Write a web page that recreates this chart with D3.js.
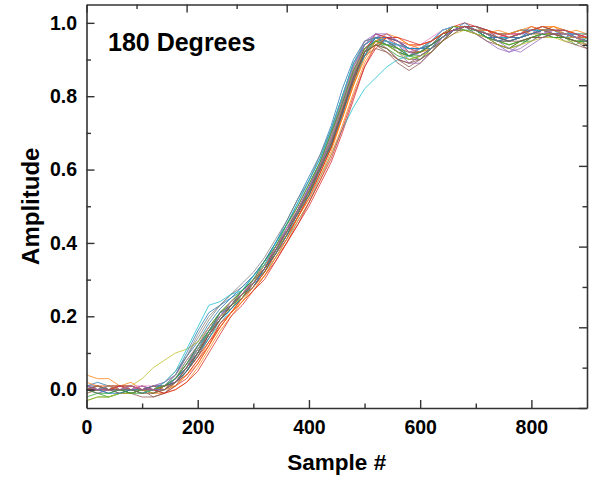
<!DOCTYPE html>
<html>
<head>
<meta charset="utf-8">
<script src="https://cdn.jsdelivr.net/npm/d3@7"></script>
<style>
  html, body { margin: 0; padding: 0; background: #fff; }
  svg text { font-family: "Liberation Sans", Arial, sans-serif; font-weight: bold; fill: #000; }
</style>
</head>
<body>
<svg id="chart" width="589" height="477"></svg>
<script>
// Sample positions shared by every recorded trace
const samples = d3.range(0, 901, 20);

// Amplitude of each recorded trace at the sample positions above
const run01 = [0.01,0.00,0.01,0.00,-0.01,0.00,0.01,0.02,0.04,0.09,0.13,0.18,0.22,0.25,0.27,0.31,0.35,0.40,0.45,0.51,0.57,0.63,0.71,0.80,0.89,0.94,0.96,0.95,0.93,0.92,0.93,0.95,0.98,0.99,0.99,0.98,0.96,0.95,0.96,0.97,0.98,0.98,0.97,0.97,0.96,0.95];
const run02 = [0.04,0.03,0.03,0.01,0.02,0.00,0.01,0.00,0.02,0.05,0.09,0.14,0.19,0.22,0.25,0.28,0.32,0.37,0.42,0.47,0.53,0.59,0.66,0.74,0.83,0.91,0.95,0.96,0.95,0.93,0.93,0.94,0.96,0.99,0.99,0.99,0.98,0.97,0.96,0.96,0.97,0.98,0.99,0.98,0.97,0.97];
const run03 = [-0.03,-0.02,-0.02,-0.01,-0.01,0.00,-0.01,0.01,0.02,0.06,0.10,0.15,0.19,0.22,0.25,0.29,0.33,0.38,0.43,0.48,0.54,0.61,0.68,0.77,0.86,0.92,0.94,0.93,0.91,0.90,0.91,0.93,0.96,0.98,0.99,0.98,0.97,0.95,0.94,0.95,0.96,0.97,0.97,0.96,0.95,0.95];
const run04 = [0.00,0.01,0.00,0.01,0.00,-0.01,0.00,-0.01,0.01,0.03,0.07,0.12,0.17,0.21,0.24,0.27,0.31,0.35,0.40,0.45,0.50,0.56,0.62,0.70,0.79,0.88,0.94,0.96,0.95,0.93,0.92,0.93,0.95,0.98,0.99,0.99,0.98,0.97,0.97,0.98,0.98,0.99,0.98,0.97,0.97,0.96];
const run05 = [0.00,0.00,0.01,0.01,0.00,0.00,0.01,0.01,0.03,0.07,0.11,0.16,0.20,0.23,0.26,0.30,0.34,0.39,0.44,0.49,0.55,0.61,0.68,0.77,0.87,0.94,0.97,0.96,0.93,0.90,0.90,0.92,0.95,0.98,0.99,0.97,0.95,0.93,0.92,0.94,0.96,0.97,0.97,0.96,0.96,0.95];
const run06 = [0.01,0.01,0.00,0.00,-0.01,0.00,-0.02,-0.01,0.02,0.06,0.10,0.15,0.20,0.24,0.27,0.30,0.34,0.38,0.43,0.49,0.55,0.61,0.68,0.77,0.86,0.93,0.95,0.93,0.90,0.88,0.90,0.93,0.96,0.98,0.99,0.98,0.96,0.95,0.95,0.96,0.97,0.98,0.98,0.97,0.96,0.94];
const run07 = [0.00,-0.01,0.00,0.00,0.01,0.01,0.00,0.01,0.03,0.07,0.12,0.17,0.21,0.24,0.26,0.29,0.33,0.38,0.43,0.49,0.55,0.61,0.69,0.78,0.87,0.93,0.95,0.95,0.94,0.93,0.94,0.96,0.98,0.99,0.99,0.98,0.97,0.96,0.96,0.97,0.98,0.98,0.98,0.98,0.97,0.96];
const run08 = [0.01,0.00,0.00,-0.01,0.00,0.00,0.00,0.02,0.05,0.09,0.14,0.19,0.23,0.26,0.28,0.31,0.35,0.40,0.45,0.50,0.56,0.62,0.70,0.79,0.88,0.94,0.96,0.95,0.93,0.92,0.92,0.94,0.97,0.99,0.99,0.98,0.97,0.96,0.95,0.96,0.97,0.98,0.98,0.97,0.96,0.96];
const run09 = [0.00,0.00,0.01,0.01,0.01,0.03,0.06,0.08,0.10,0.11,0.13,0.17,0.21,0.24,0.27,0.30,0.34,0.39,0.44,0.50,0.56,0.62,0.69,0.78,0.87,0.93,0.95,0.94,0.92,0.91,0.92,0.94,0.97,0.99,0.99,0.98,0.97,0.96,0.95,0.96,0.97,0.97,0.97,0.96,0.95,0.95];
const run10 = [0.01,0.01,0.00,0.00,0.00,0.00,0.00,0.01,0.02,0.05,0.09,0.14,0.18,0.22,0.25,0.28,0.32,0.36,0.41,0.46,0.51,0.58,0.64,0.71,0.77,0.82,0.85,0.88,0.90,0.91,0.92,0.95,0.97,0.99,0.99,0.98,0.97,0.97,0.97,0.98,0.98,0.99,0.98,0.97,0.97,0.96];
const run11 = [0.00,0.00,-0.01,0.00,0.00,0.01,0.00,0.01,0.04,0.10,0.16,0.21,0.23,0.25,0.28,0.31,0.35,0.40,0.46,0.52,0.58,0.64,0.72,0.82,0.90,0.95,0.96,0.94,0.92,0.91,0.92,0.94,0.97,0.99,0.99,0.98,0.96,0.96,0.96,0.97,0.97,0.98,0.97,0.96,0.95,0.95];
const run12 = [-0.01,0.00,0.00,0.01,0.00,0.00,0.01,0.00,0.01,0.04,0.08,0.13,0.18,0.21,0.24,0.28,0.32,0.37,0.42,0.47,0.53,0.59,0.66,0.74,0.83,0.91,0.95,0.96,0.95,0.94,0.94,0.95,0.97,0.99,0.99,0.99,0.98,0.97,0.96,0.97,0.98,0.99,0.99,0.98,0.97,0.96];
const run13 = [0.01,0.00,0.00,0.00,-0.01,-0.01,0.00,0.01,0.03,0.08,0.12,0.17,0.21,0.24,0.27,0.30,0.34,0.39,0.44,0.49,0.55,0.62,0.70,0.79,0.88,0.94,0.96,0.95,0.93,0.91,0.91,0.93,0.96,0.98,0.99,0.98,0.96,0.94,0.93,0.94,0.96,0.97,0.97,0.97,0.96,0.96];
const run14 = [0.00,0.00,0.01,0.00,0.00,0.00,0.01,0.01,0.02,0.05,0.09,0.13,0.17,0.21,0.25,0.29,0.33,0.37,0.42,0.47,0.53,0.60,0.67,0.76,0.86,0.93,0.96,0.96,0.94,0.93,0.93,0.95,0.97,0.99,1.00,0.99,0.98,0.97,0.97,0.97,0.98,0.98,0.98,0.97,0.96,0.95];
const run15 = [0.00,0.01,0.00,0.00,0.00,0.00,0.00,0.00,0.02,0.06,0.10,0.15,0.19,0.22,0.26,0.29,0.33,0.38,0.43,0.48,0.54,0.60,0.67,0.76,0.85,0.92,0.96,0.97,0.95,0.93,0.93,0.94,0.96,0.98,0.99,0.99,0.98,0.97,0.96,0.96,0.97,0.98,0.98,0.97,0.96,0.96];
const run16 = [0.00,0.00,0.00,0.01,0.01,0.00,-0.01,0.01,0.03,0.06,0.10,0.15,0.20,0.23,0.26,0.29,0.33,0.38,0.43,0.48,0.54,0.60,0.67,0.76,0.85,0.91,0.93,0.92,0.90,0.89,0.91,0.93,0.96,0.98,0.99,0.98,0.97,0.96,0.95,0.96,0.97,0.97,0.97,0.96,0.95,0.94];
const run17 = [0.01,0.01,0.01,0.00,0.00,0.00,0.00,0.01,0.03,0.07,0.11,0.16,0.20,0.23,0.26,0.30,0.34,0.38,0.43,0.49,0.55,0.61,0.68,0.77,0.86,0.93,0.96,0.96,0.95,0.94,0.94,0.95,0.97,0.98,0.99,0.98,0.97,0.97,0.97,0.97,0.97,0.98,0.98,0.97,0.97,0.96];
const run18 = [-0.01,0.00,0.00,0.00,0.00,0.00,0.00,0.00,0.02,0.05,0.10,0.15,0.19,0.23,0.26,0.29,0.33,0.38,0.43,0.48,0.54,0.60,0.67,0.76,0.85,0.92,0.95,0.94,0.92,0.91,0.92,0.94,0.97,0.99,0.99,0.98,0.97,0.95,0.95,0.96,0.97,0.98,0.98,0.97,0.96,0.96];
const run19 = [0.00,0.00,0.00,0.00,0.00,0.00,0.00,0.01,0.03,0.07,0.11,0.15,0.19,0.23,0.26,0.29,0.33,0.38,0.43,0.48,0.54,0.61,0.68,0.77,0.86,0.93,0.95,0.94,0.93,0.92,0.92,0.93,0.96,0.98,0.99,0.98,0.97,0.95,0.94,0.95,0.96,0.97,0.97,0.96,0.96,0.95];
const run20 = [0.00,0.01,0.00,0.00,0.00,0.00,0.00,0.01,0.03,0.06,0.11,0.16,0.20,0.23,0.26,0.29,0.33,0.38,0.43,0.48,0.54,0.60,0.67,0.75,0.84,0.91,0.95,0.95,0.94,0.93,0.93,0.95,0.97,0.99,0.99,0.99,0.98,0.97,0.97,0.98,0.98,0.98,0.98,0.97,0.96,0.96];
const run21 = [0.01,0.02,0.01,0.00,0.01,0.00,-0.01,0.00,0.03,0.06,0.12,0.15,0.21,0.22,0.26,0.28,0.33,0.37,0.44,0.48,0.55,0.60,0.68,0.75,0.86,0.91,0.96,0.94,0.94,0.91,0.93,0.93,0.97,0.98,1.00,0.98,0.97,0.95,0.96,0.96,0.98,0.97,0.98,0.96,0.97,0.95];
const run22 = [0.00,0.01,0.00,0.01,0.00,0.00,-0.01,-0.01,0.00,0.02,0.06,0.11,0.16,0.20,0.24,0.27,0.31,0.36,0.40,0.46,0.51,0.57,0.64,0.72,0.81,0.89,0.94,0.96,0.96,0.94,0.93,0.95,0.97,0.98,0.99,0.99,0.97,0.98,0.97,0.98,0.97,0.98,0.99,0.97,0.98,0.97];
const run23 = [-0.02,-0.01,-0.02,-0.01,0.00,-0.01,0.00,0.00,0.02,0.05,0.10,0.16,0.19,0.23,0.25,0.30,0.32,0.38,0.42,0.49,0.53,0.61,0.66,0.76,0.84,0.92,0.94,0.94,0.92,0.91,0.90,0.93,0.95,0.98,0.98,0.97,0.96,0.94,0.93,0.95,0.95,0.97,0.96,0.96,0.94,0.96];
const run24 = [0.01,0.00,0.01,0.01,0.00,0.01,0.00,0.01,0.02,0.04,0.08,0.12,0.18,0.21,0.25,0.28,0.32,0.37,0.41,0.47,0.52,0.59,0.66,0.75,0.84,0.92,0.97,0.96,0.95,0.92,0.92,0.94,0.96,0.99,0.99,0.98,0.98,0.96,0.97,0.97,0.99,0.98,0.97,0.97,0.96,0.97];
const run25 = [0.00,-0.01,0.00,0.01,0.00,0.01,0.00,0.00,0.03,0.07,0.12,0.16,0.21,0.23,0.27,0.29,0.34,0.38,0.44,0.48,0.55,0.61,0.69,0.78,0.88,0.95,0.97,0.95,0.92,0.89,0.89,0.92,0.96,0.98,0.99,0.98,0.96,0.94,0.92,0.93,0.95,0.97,0.98,0.97,0.96,0.96];
const run26 = [0.00,0.00,0.00,-0.01,-0.01,-0.02,-0.02,-0.01,0.01,0.05,0.09,0.15,0.19,0.23,0.26,0.30,0.33,0.39,0.43,0.49,0.54,0.61,0.68,0.76,0.86,0.92,0.94,0.92,0.89,0.87,0.89,0.92,0.95,0.98,0.98,0.97,0.95,0.94,0.93,0.95,0.96,0.96,0.97,0.95,0.94,0.93];
const run27 = [0.01,0.00,0.01,0.00,0.00,0.01,0.01,0.02,0.04,0.08,0.12,0.17,0.20,0.24,0.26,0.30,0.34,0.39,0.44,0.50,0.56,0.62,0.70,0.79,0.88,0.94,0.96,0.95,0.94,0.92,0.93,0.95,0.98,0.99,0.99,0.98,0.97,0.96,0.97,0.97,0.98,0.97,0.98,0.97,0.97,0.96];
const run28 = [0.00,0.01,0.00,0.00,-0.01,0.00,0.00,0.01,0.04,0.09,0.15,0.20,0.23,0.26,0.29,0.32,0.36,0.41,0.46,0.52,0.57,0.64,0.71,0.80,0.89,0.95,0.96,0.95,0.93,0.91,0.92,0.94,0.97,0.98,0.99,0.97,0.96,0.95,0.95,0.96,0.97,0.98,0.97,0.97,0.96,0.95];
const run29 = [-0.03,-0.02,-0.02,-0.01,-0.01,0.00,-0.01,0.00,0.02,0.06,0.11,0.15,0.20,0.22,0.26,0.29,0.34,0.37,0.43,0.48,0.54,0.60,0.68,0.77,0.86,0.92,0.95,0.94,0.92,0.90,0.91,0.92,0.95,0.97,0.98,0.97,0.96,0.94,0.93,0.94,0.95,0.96,0.96,0.95,0.95,0.94];
const run30 = [0.00,0.00,0.01,0.00,0.00,-0.01,0.00,0.02,0.05,0.11,0.17,0.23,0.24,0.26,0.27,0.31,0.34,0.40,0.45,0.51,0.57,0.63,0.71,0.80,0.89,0.94,0.96,0.95,0.94,0.93,0.93,0.95,0.98,0.99,0.99,0.99,0.97,0.96,0.96,0.97,0.98,0.98,0.98,0.97,0.97,0.97];
const run31 = [0.00,0.00,-0.01,-0.01,0.00,0.00,0.01,0.01,0.02,0.05,0.10,0.14,0.19,0.22,0.25,0.28,0.33,0.37,0.42,0.48,0.53,0.60,0.67,0.75,0.85,0.92,0.96,0.96,0.95,0.93,0.93,0.94,0.96,0.98,0.99,0.98,0.96,0.96,0.95,0.96,0.97,0.98,0.98,0.98,0.96,0.96];
const run32 = [0.02,0.01,0.01,0.00,0.01,0.00,0.00,0.01,0.01,0.04,0.07,0.12,0.17,0.21,0.25,0.28,0.31,0.36,0.41,0.47,0.52,0.58,0.65,0.74,0.83,0.90,0.95,0.97,0.96,0.94,0.94,0.95,0.97,0.99,0.99,0.98,0.98,0.97,0.97,0.98,0.99,0.98,0.98,0.97,0.96,0.96];
const run33 = [0.00,-0.01,-0.01,0.00,-0.01,0.00,0.00,0.01,0.03,0.07,0.12,0.16,0.21,0.23,0.27,0.30,0.35,0.39,0.45,0.50,0.56,0.62,0.70,0.78,0.87,0.93,0.95,0.94,0.93,0.91,0.92,0.94,0.96,0.99,0.98,0.98,0.96,0.95,0.94,0.95,0.96,0.97,0.96,0.96,0.95,0.95];
const run34 = [0.00,0.00,0.00,0.01,0.01,0.00,0.00,-0.01,0.00,0.02,0.05,0.10,0.15,0.20,0.23,0.27,0.30,0.35,0.40,0.45,0.51,0.57,0.63,0.71,0.80,0.88,0.93,0.96,0.96,0.95,0.94,0.95,0.97,0.98,0.99,0.99,0.98,0.97,0.96,0.97,0.98,0.99,0.98,0.98,0.97,0.96];
const run35 = [0.01,0.00,0.00,0.00,0.01,0.00,0.00,0.00,0.02,0.06,0.11,0.15,0.20,0.23,0.26,0.29,0.33,0.38,0.43,0.49,0.55,0.61,0.68,0.77,0.86,0.94,0.97,0.97,0.95,0.92,0.91,0.93,0.96,0.98,0.99,0.98,0.97,0.95,0.93,0.92,0.94,0.96,0.97,0.97,0.96,0.95];
const run36 = [0.00,0.01,0.00,0.00,0.00,-0.01,-0.01,0.00,0.02,0.06,0.10,0.15,0.19,0.23,0.26,0.29,0.33,0.38,0.43,0.48,0.54,0.60,0.67,0.76,0.85,0.92,0.94,0.93,0.90,0.89,0.90,0.92,0.95,0.97,0.99,0.98,0.97,0.96,0.95,0.95,0.96,0.96,0.97,0.96,0.95,0.93];

const runs = [run01, run02, run03, run04, run05, run06, run07, run08, run09, run10,
              run11, run12, run13, run14, run15, run16, run17, run18, run19, run20,
              run21, run22, run23, run24, run25, run26, run27, run28, run29, run30,
              run31, run32, run33, run34, run35, run36];

// Axis ticks and text
const xMajorTicks = [0, 200, 400, 600, 800];
const xMinorTicks = [100, 300, 500, 700];
const yMajorTicks = [0.0, 0.2, 0.4, 0.6, 0.8, 1.0];
const yMinorTicks = [0.1, 0.3, 0.5, 0.7, 0.9];
const xDomain = [0, 900];
const yDomain = [-0.05, 1.05];
const xTitle = "Sample #";
const yTitle = "Amplitude";
const panelLabel = "180 Degrees";

const svg = d3.select("#chart");
const margin = { left: 86.5, right: 2, top: 4.5, bottom: 69 };
const W = 589, H = 477;
const x = d3.scaleLinear().domain(xDomain).range([margin.left, W - margin.right]);
const y = d3.scaleLinear().domain(yDomain).range([H - margin.bottom, margin.top]);

const palette = d3.schemeCategory10;

svg.append("defs").append("clipPath").attr("id", "plotClip")
  .append("rect")
  .attr("x", x.range()[0]).attr("y", y.range()[1])
  .attr("width", x.range()[1] - x.range()[0])
  .attr("height", y.range()[0] - y.range()[1]);

const line = d3.line()
  .x((d, i) => x(samples[i]))
  .y(d => y(d));

svg.append("g").attr("clip-path", "url(#plotClip)")
  .selectAll("path")
  .data(runs)
  .join("path")
  .attr("d", line)
  .attr("fill", "none")
  .attr("stroke", (d, i) => palette[i % palette.length])
  .attr("stroke-width", 0.9)
  .attr("stroke-opacity", 0.85);

// Frame and inward ticks
const axisColor = "#333";
const labelFont = "Liberation Sans, Arial, sans-serif";
function styleAxis(g) {
  g.select(".domain").attr("stroke", axisColor).attr("stroke-width", 1.6);
  g.selectAll(".tick line").attr("stroke", axisColor).attr("stroke-width", 1.4);
}

const xAxis = d3.axisBottom(x).tickValues(xMajorTicks).tickSizeInner(-8).tickSizeOuter(0)
  .tickPadding(12).tickFormat(d3.format("d"));
svg.append("g").attr("transform", `translate(0,${y.range()[0]})`).call(xAxis)
  .call(styleAxis)
  .call(g => g.selectAll("text").attr("font-size", 19.5).attr("font-family", labelFont).attr("font-weight", "bold"));
svg.append("g").attr("transform", `translate(0,${y.range()[0]})`)
  .call(d3.axisBottom(x).tickValues(xMinorTicks).tickSizeInner(-4.5).tickSizeOuter(0).tickFormat(""))
  .call(styleAxis).call(g => g.select(".domain").remove());

const yAxis = d3.axisLeft(y).tickValues(yMajorTicks).tickSizeInner(-8).tickSizeOuter(0)
  .tickPadding(9.5).tickFormat(d3.format(".1f"));
svg.append("g").attr("transform", `translate(${x.range()[0]},0)`).call(yAxis)
  .call(styleAxis)
  .call(g => g.selectAll("text").attr("font-size", 19.5).attr("font-family", labelFont).attr("font-weight", "bold"));
svg.append("g").attr("transform", `translate(${x.range()[0]},0)`)
  .call(d3.axisLeft(y).tickValues(yMinorTicks).tickSizeInner(-4.5).tickSizeOuter(0).tickFormat(""))
  .call(styleAxis).call(g => g.select(".domain").remove());

// Top and right edges carry evenly divided ticks
const xEdge = d3.range(0, 11).map(k => xDomain[0] + k * (xDomain[1] - xDomain[0]) / 10);
const yEdge = d3.range(0, 11).map(k => yDomain[0] + k * (yDomain[1] - yDomain[0]) / 10);
svg.append("g").attr("transform", `translate(0,${y.range()[1]})`)
  .call(d3.axisTop(x).tickValues(xEdge.filter((v, k) => k % 2 === 0)).tickSizeInner(-8).tickSizeOuter(0).tickFormat(""))
  .call(styleAxis);
svg.append("g").attr("transform", `translate(0,${y.range()[1]})`)
  .call(d3.axisTop(x).tickValues(xEdge.filter((v, k) => k % 2 === 1)).tickSizeInner(-4.5).tickSizeOuter(0).tickFormat(""))
  .call(styleAxis).call(g => g.select(".domain").remove());
svg.append("g").attr("transform", `translate(${x.range()[1]},0)`)
  .call(d3.axisRight(y).tickValues(yEdge.filter((v, k) => k % 2 === 0)).tickSizeInner(-8).tickSizeOuter(0).tickFormat(""))
  .call(styleAxis);
svg.append("g").attr("transform", `translate(${x.range()[1]},0)`)
  .call(d3.axisRight(y).tickValues(yEdge.filter((v, k) => k % 2 === 1)).tickSizeInner(-4.5).tickSizeOuter(0).tickFormat(""))
  .call(styleAxis).call(g => g.select(".domain").remove());

// Titles
svg.append("text")
  .attr("x", (x.range()[0] + x.range()[1]) / 2)
  .attr("y", 470)
  .attr("text-anchor", "middle")
  .attr("font-size", 22.5)
  .text(xTitle);

svg.append("text")
  .attr("transform", `translate(39,${(y.range()[0] + y.range()[1]) / 2}) rotate(-90)`)
  .attr("text-anchor", "middle")
  .attr("font-size", 24)
  .text(yTitle);

svg.append("text")
  .attr("x", 108)
  .attr("y", 51)
  .attr("font-size", 25)
  .text(panelLabel);
</script>
</body>
</html>
